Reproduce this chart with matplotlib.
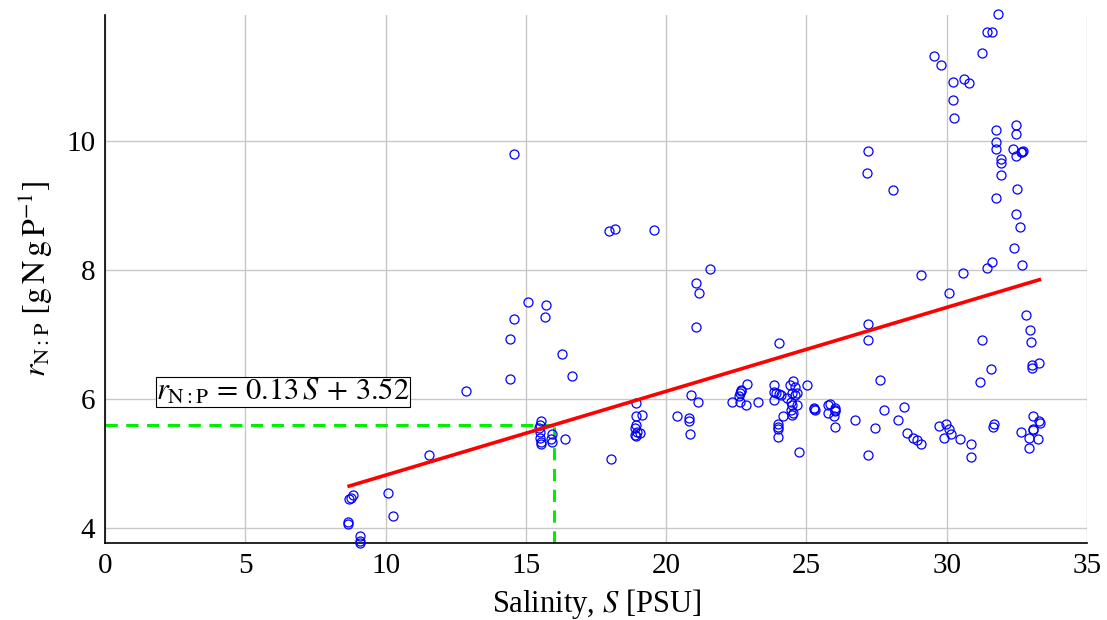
import matplotlib
matplotlib.use("Agg")
import matplotlib.pyplot as plt

plt.rcParams["font.family"] = ["Liberation Serif", "DejaVu Serif"]
plt.rcParams["mathtext.fontset"] = "stix"

# salinity [PSU] and N:P mass ratio of each sample
salinity = [
    8.70, 8.75, 8.85, 10.10, 8.67, 8.67, 10.25, 9.09, 9.09, 9.09,
    11.55, 12.87, 14.56, 17.97, 18.19, 19.58, 21.57, 21.05, 21.17, 21.07,
    24.03, 15.09, 15.70, 15.67, 14.58, 14.43, 16.30, 16.63, 14.42, 18.92,
    18.92, 19.14, 18.92, 18.90, 18.95, 19.05, 18.90, 18.92, 18.03, 20.38,
    20.81, 20.82, 20.84, 20.88, 21.13, 16.39, 15.53, 15.49, 15.47, 15.49,
    15.49, 15.52, 15.55, 15.94, 15.88, 15.92, 22.33, 22.60, 22.68, 22.63,
    22.66, 22.89, 22.63, 22.86, 23.27, 23.84, 23.85, 23.91, 23.85, 24.09,
    24.02, 24.41, 24.53, 24.59, 24.50, 24.65, 24.59, 24.32, 24.45, 24.50,
    24.67, 24.45, 24.50, 24.53, 24.17, 23.97, 23.99, 23.97, 23.97, 24.73,
    25.03, 25.28, 25.30, 25.28, 25.78, 25.84, 25.78, 26.02, 26.00, 26.03,
    25.98, 26.02, 26.73, 27.62, 27.18, 27.43, 27.76, 28.27, 28.49, 28.59,
    28.81, 28.95, 29.09, 29.72, 29.96, 30.08, 30.14, 29.89, 30.48, 30.86,
    30.87, 31.18, 31.59, 31.64, 31.69, 32.66, 32.92, 32.94, 33.06, 33.06,
    33.08, 33.25, 33.30, 33.32, 33.03, 33.05, 33.30, 29.08, 30.59, 31.42,
    31.62, 32.69, 30.08, 27.18, 27.18, 32.82, 32.96, 32.99, 31.27, 31.81,
    31.42, 31.61, 31.27, 29.55, 29.80, 30.23, 30.60, 30.78, 30.22, 30.27,
    31.77, 31.77, 31.77, 32.47, 32.46, 32.35, 32.47, 32.63, 32.73, 32.68,
    31.93, 31.93, 31.92, 32.51, 31.77, 32.48, 32.60, 32.41, 27.18, 27.17,
    28.08,
]
ratio = [
    4.45, 4.47, 4.52, 4.54, 4.10, 4.06, 4.18, 3.88, 3.80, 3.77,
    5.13, 6.12, 9.79, 8.60, 8.64, 8.62, 8.01, 7.80, 7.65, 7.11,
    6.87, 7.50, 7.46, 7.27, 7.24, 6.93, 6.69, 6.35, 6.31, 5.94,
    5.74, 5.75, 5.60, 5.55, 5.49, 5.48, 5.44, 5.42, 5.07, 5.74,
    5.70, 5.66, 5.46, 6.07, 5.96, 5.38, 5.66, 5.60, 5.55, 5.49,
    5.39, 5.34, 5.30, 5.46, 5.38, 5.34, 5.96, 6.05, 6.13, 6.10,
    6.14, 6.24, 5.96, 5.90, 5.96, 6.21, 6.11, 6.09, 5.98, 6.07,
    6.08, 6.21, 6.28, 6.19, 6.09, 6.09, 6.06, 6.01, 5.96, 5.91,
    5.91, 5.83, 5.75, 5.78, 5.74, 5.61, 5.57, 5.53, 5.41, 5.18,
    6.21, 5.86, 5.83, 5.84, 5.91, 5.92, 5.78, 5.86, 5.83, 5.81,
    5.73, 5.57, 5.67, 6.29, 5.14, 5.55, 5.83, 5.67, 5.88, 5.48,
    5.39, 5.36, 5.31, 5.58, 5.61, 5.53, 5.46, 5.39, 5.38, 5.30,
    5.10, 6.26, 6.47, 5.57, 5.62, 5.49, 5.39, 5.24, 5.74, 5.53,
    5.52, 5.38, 5.66, 5.63, 6.52, 6.48, 6.56, 7.92, 7.95, 8.03,
    8.13, 8.07, 7.64, 7.17, 6.91, 7.30, 7.07, 6.89, 6.91, 11.97,
    11.69, 11.68, 11.37, 11.32, 11.18, 10.91, 10.96, 10.90, 10.64, 10.35,
    10.17, 9.99, 9.88, 10.25, 10.10, 9.88, 9.76, 9.83, 9.85, 9.83,
    9.72, 9.65, 9.47, 9.25, 9.12, 8.86, 8.66, 8.34, 9.85, 9.50,
    9.24,
]

# linear fit r = a*S + b over the sampled salinity range
slope = 0.13
intercept = 3.52
fit_range = [8.7, 33.3]
s_mark = 16.0

fig = plt.figure(figsize=(11.07, 6.2), dpi=100)
ax = fig.add_axes([0.0949, 0.124, 0.8871, 0.852])

ax.grid(True, color="#c8c8c8", linewidth=1.0)
ax.set_axisbelow(True)

ax.plot(salinity, ratio, linestyle="none", marker="o", markersize=6.5,
        markerfacecolor="none", markeredgecolor="blue", markeredgewidth=0.9,
        clip_on=False, zorder=3)

fit_y = [slope * s + intercept for s in fit_range]
ax.plot(fit_range, fit_y, color="red", linewidth=2.6, zorder=4)

r_mark = slope * s_mark + intercept
ax.plot([0, s_mark], [r_mark, r_mark], color="#00ee00", linewidth=2.2,
        dashes=(4, 2.8), zorder=2)
ax.plot([s_mark, s_mark], [3.767, r_mark], color="#00ee00", linewidth=2.2,
        dashes=(4, 2.8), zorder=2)

ax.text(6.34, 6.11, r"$r_{\mathrm{N:P}}\,=\,0.13\,S\,+\,3.52$", fontsize=22,
        ha="center", va="center",
        bbox=dict(boxstyle="square,pad=0.02", facecolor="white",
                  edgecolor="black", linewidth=0.8), zorder=5)

ax.set_xlim(0, 35)
ax.set_ylim(3.767, 11.953)
ax.set_xticks(range(0, 36, 5))
ax.set_yticks([4, 6, 8, 10])
ax.tick_params(labelsize=21, length=0, pad=7)

ax.spines["top"].set_visible(False)
ax.spines["right"].set_visible(False)
ax.spines["left"].set_linewidth(1.2)
ax.spines["bottom"].set_linewidth(1.2)

ax.set_xlabel(r"Salinity, $S$ [PSU]", fontsize=22, labelpad=6)
ax.set_ylabel(r"$r_{\mathrm{N:P}}\ [\mathrm{g\,N\,g\,P^{-1}}]$", fontsize=23,
              labelpad=8)

fig.savefig("out.png", dpi=100)
plt.close(fig)
